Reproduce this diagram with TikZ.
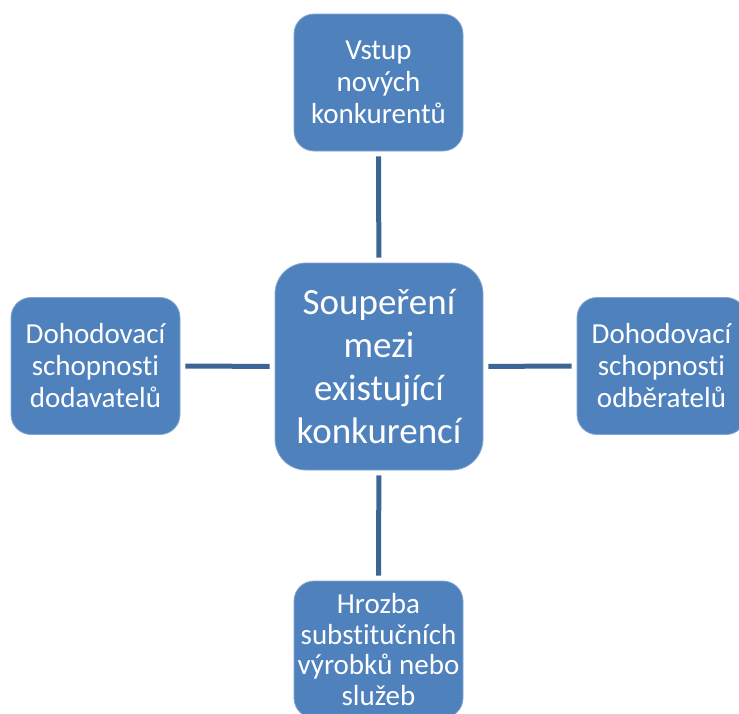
\documentclass[tikz,border=0pt]{standalone}
\usepackage{fontspec}
\setmainfont[RawFeature={-liga;-clig;-calt;-dlig}]{Carlito}
\definecolor{boxblue}{HTML}{4F81BD}
\definecolor{linkblue}{HTML}{3C6596}

\begin{document}
\begin{tikzpicture}[x=1pt,y=-1pt,
  force/.style={fill=boxblue,draw=boxblue!70!white,line width=0.8pt,text=white,
    rounded corners=20pt,minimum width=169pt,minimum height=137pt,
    align=center,inner sep=0pt,
    font=\fontsize{29}{32}\selectfont},
  rivalry/.style={force,rounded corners=31pt,minimum width=208pt,minimum height=207pt,
    font=\fontsize{37}{43}\selectfont},
  link/.style={draw=linkblue,line width=5pt,shorten <=5pt,shorten >=5pt}]
\useasboundingbox (0,0) rectangle (739,713);
\node[rivalry] (rival) at (379,366.5) {Soupeření\\mezi\\existující\\konkurencí};
\node[force] (entry) at (378.5,82.5) {Vstup\\nových\\konkurentů};
\node[force] (suppl) at (95.5,366) {Dohodovací\\schopnost\kern0pt i\\dodavatelů};
\node[force] (buyer) at (661.5,366) {Dohodovací\\schopnost\kern0pt i\\odběratelů};
\node[force,font=\fontsize{29}{30.5}\selectfont] (subst) at (378.5,649.5) {Hrozba\\subst\kern0pt itučních\\výrobků nebo\\služeb};
\draw[link] (entry) -- (rival);
\draw[link] (suppl) -- (rival);
\draw[link] (rival) -- (buyer);
\draw[link] (rival) -- (subst);
\end{tikzpicture}
\end{document}
